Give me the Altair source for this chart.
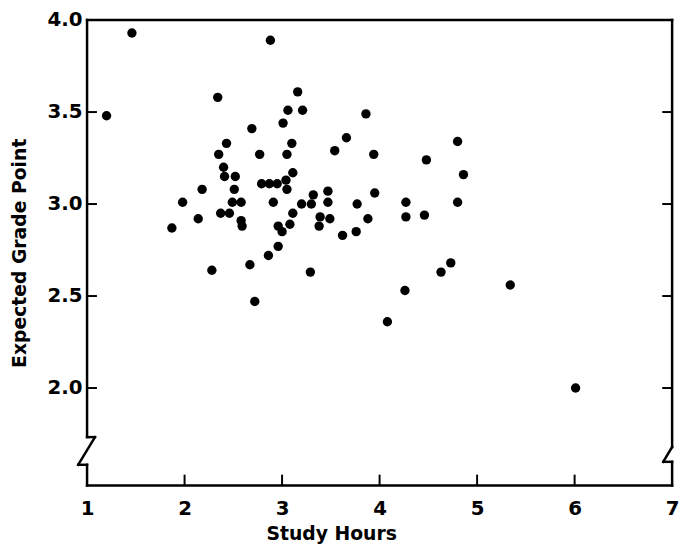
import altair as alt
import pandas as pd

# ---- data ----
study_hours = [1.46, 2.88, 1.20, 2.34, 3.16, 3.06, 3.21, 3.86, 3.01, 2.69,
               3.66, 2.43, 3.10, 3.54, 2.35, 2.77, 3.05, 3.94, 2.40, 2.41,
               2.52, 3.11, 2.18, 2.51, 2.79, 2.87, 2.95, 3.04, 3.05, 3.95,
               1.98, 2.49, 2.58, 2.91, 3.20, 3.30, 3.32, 3.47, 3.47, 3.77,
               2.37, 2.46, 2.14, 2.58, 2.59, 3.11, 3.39, 3.49, 3.38, 3.88,
               1.87, 2.96, 3.00, 3.08, 3.62, 3.76, 2.96, 2.86, 4.80, 4.48,
               4.86, 4.27, 4.80, 4.27, 4.46, 2.28, 2.67, 3.29, 2.72, 4.08,
               4.26, 4.63, 4.73, 5.34, 6.01]
grade_point = [3.93, 3.89, 3.48, 3.58, 3.61, 3.51, 3.51, 3.49, 3.44, 3.41,
               3.36, 3.33, 3.33, 3.29, 3.27, 3.27, 3.27, 3.27, 3.20, 3.15,
               3.15, 3.17, 3.08, 3.08, 3.11, 3.11, 3.11, 3.13, 3.08, 3.06,
               3.01, 3.01, 3.01, 3.01, 3.00, 3.00, 3.05, 3.07, 3.01, 3.00,
               2.95, 2.95, 2.92, 2.91, 2.88, 2.95, 2.93, 2.92, 2.88, 2.92,
               2.87, 2.88, 2.85, 2.89, 2.83, 2.85, 2.77, 2.72, 3.34, 3.24,
               3.16, 3.01, 3.01, 2.93, 2.94, 2.64, 2.67, 2.63, 2.47, 2.36,
               2.53, 2.63, 2.68, 2.56, 2.00]

x_ticks = [1, 2, 3, 4, 5, 6, 7]
y_ticks = [2.0, 2.5, 3.0, 3.5, 4.0]
x_inner_ticks = [2, 3, 4, 5, 6]
y_inner_ticks = [2.0, 2.5, 3.0, 3.5]

W, H = 592, 471
FONT = "DejaVu Sans"

df = pd.DataFrame({"hours": study_hours, "gpa": grade_point})
xt = pd.DataFrame({"t": x_inner_ticks})
yt = pd.DataFrame({"v": y_inner_ticks})

x_scale = alt.Scale(domain=[1, 7], nice=False, zero=False)
y_scale = alt.Scale(domain=[1.47, 4.0], nice=False, zero=False)

points = alt.Chart(df).mark_circle(size=90, color="black", opacity=1).encode(
    x=alt.X("hours:Q", scale=x_scale,
            axis=alt.Axis(values=x_ticks, format="d", title="Study Hours",
                          ticks=False, tickSize=0, domain=False, grid=False,
                          labelPadding=13, labelFontSize=20, labelFont=FONT,
                          labelFontWeight="bold", labelColor="black",
                          titleFont=FONT, titleFontSize=19, titleFontWeight="bold",
                          titleColor="black", titlePadding=7, titleX=247,
                          labelFlush=False)),
    y=alt.Y("gpa:Q", scale=y_scale,
            axis=alt.Axis(values=y_ticks, format=".1f", title="Expected Grade Point",
                          ticks=False, tickSize=0, domain=False, grid=False,
                          labelPadding=5, labelFontSize=20, labelFont=FONT,
                          labelFontWeight="bold", labelColor="black",
                          titleFont=FONT, titleFontSize=19, titleFontWeight="bold",
                          titleColor="black", titlePadding=18, labelFlush=False)),
)

bottom_ticks = alt.Chart(xt).mark_rule(color="black", strokeWidth=2).encode(
    x=alt.X("t:Q", scale=x_scale), y=alt.value(H - 11), y2=alt.value(H))
left_ticks = alt.Chart(yt).mark_rule(color="black", strokeWidth=2).encode(
    y=alt.Y("v:Q", scale=y_scale), x=alt.value(0), x2=alt.value(10))
right_ticks = alt.Chart(yt).mark_rule(color="black", strokeWidth=2).encode(
    y=alt.Y("v:Q", scale=y_scale), x=alt.value(W - 10), x2=alt.value(W))

one = pd.DataFrame({"a": [0]})


def seg(x1, y1, x2, y2, w=2.5):
    return alt.Chart(one).mark_rule(color="black", strokeWidth=w, strokeCap="square").encode(
        x=alt.value(x1), y=alt.value(y1), x2=alt.value(x2), y2=alt.value(y2))


frame = [
    seg(0, 0, W, 0),          # top
    seg(0, H, W, H),          # bottom
    # left axis with break
    seg(0, 0, 0, 422),
    seg(0, 422, 8, 422),
    seg(8, 422, -9, 450),
    seg(-9, 450, 0, 450),
    seg(0, 450, 0, H),
    # right axis with break
    seg(W, 0, W, 432),
    seg(W, 432, W - 9, 447),
    seg(W - 9, 447, W, 447),
    seg(W, 447, W, H),
]

chart = alt.layer(points, bottom_ticks, left_ticks, right_ticks, *frame).properties(
    width=W, height=H,
    autosize=alt.AutoSizeParams(type="none"),
    padding={"left": 80, "top": 9, "right": 10, "bottom": 60},
    background="white",
).configure_view(stroke=None)

chart.save("out.html", embed_options={"renderer": "svg", "actions": False})
